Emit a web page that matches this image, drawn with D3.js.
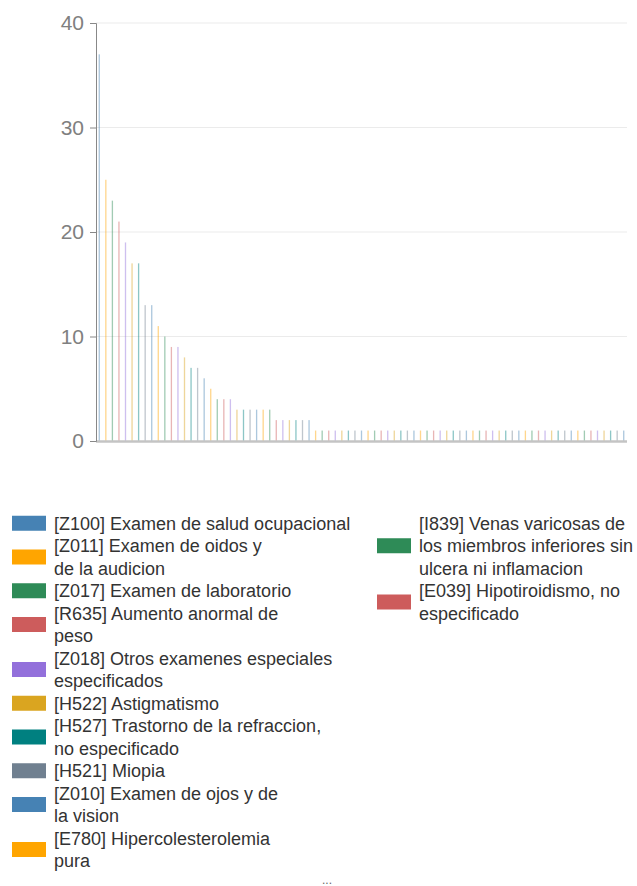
<!DOCTYPE html>
<html>
<head>
<meta charset="utf-8">
<script src="https://cdn.jsdelivr.net/npm/d3@7"></script>
<style>
  html, body { margin: 0; padding: 0; background: #fff; }
  svg { display: block; font-family: "Liberation Sans", Arial, sans-serif; }
</style>
</head>
<body>
<svg id="chart" width="637" height="886"></svg>
<script>
// ---- data ----
const values = [37, 25, 23, 21, 19, 17, 17, 13, 13, 11, 10, 9, 9, 8, 7, 7, 6, 5, 4, 4, 4,
  3, 3, 3, 3, 3, 3, 2, 2, 2, 2, 2, 2,
  1, 1, 1, 1, 1, 1, 1, 1, 1, 1, 1, 1, 1, 1, 1, 1, 1, 1, 1, 1, 1, 1, 1, 1,
  1, 1, 1, 1, 1, 1, 1, 1, 1, 1, 1, 1, 1, 1, 1, 1, 1, 1, 1, 1, 1, 1, 1, 1];
// legend labels (only the first 12 categories are shown in the legend), with their line breaks
const categoryLabels = [
  ["[Z100] Examen de salud ocupacional"],
  ["[Z011] Examen de oidos y", "de la audicion"],
  ["[Z017] Examen de laboratorio"],
  ["[R635] Aumento anormal de", "peso"],
  ["[Z018] Otros examenes especiales", "especificados"],
  ["[H522] Astigmatismo"],
  ["[H527] Trastorno de la refraccion,", "no especificado"],
  ["[H521] Miopia"],
  ["[Z010] Examen de ojos y de", "la vision"],
  ["[E780] Hipercolesterolemia", "pura"],
  ["[I839] Venas varicosas de", "los miembros inferiores sin", "ulcera ni inflamacion"],
  ["[E039] Hipotiroidismo, no", "especificado"]
];
const palette = ["#4682b4", "#ffa500", "#2e8b57", "#cd5c5c", "#9370db", "#daa520", "#008080", "#708090"];
const yTicks = [0, 10, 20, 30, 40];

// ---- chart ----
const svg = d3.select("#chart");
const plot = { left: 96, right: 627, top: 23, bottom: 441 };

const idx = d3.range(values.length);
const x = d3.scaleBand().domain(idx).range([plot.left, plot.right])
  .paddingInner(0.8).paddingOuter(0.4);
const y = d3.scaleLinear().domain([0, 40]).range([plot.bottom, plot.top]);
const color = i => palette[i % palette.length];

// grid
svg.append("g")
  .selectAll("line").data(yTicks.filter(t => t > 0)).join("line")
  .attr("x1", plot.left).attr("x2", plot.right)
  .attr("y1", d => y(d)).attr("y2", d => y(d))
  .attr("stroke", "#ebebeb").attr("stroke-width", 1);

// bars
svg.append("g")
  .selectAll("rect").data(values).join("rect")
  .attr("x", (d, i) => x(i))
  .attr("width", x.bandwidth())
  .attr("y", d => y(d))
  .attr("height", d => y(0) - y(d))
  .attr("fill", (d, i) => color(i))
  .attr("fill-opacity", 0.45);

// x axis baseline
svg.append("line")
  .attr("x1", plot.left).attr("x2", plot.right)
  .attr("y1", y(0) + 0.5).attr("y2", y(0) + 0.5)
  .attr("stroke", "#c4c4c4").attr("stroke-width", 2.5);

// y axis
const yAxis = svg.append("g")
  .attr("transform", `translate(${plot.left},0)`)
  .call(d3.axisLeft(y).tickValues(yTicks).tickSize(6).tickPadding(6).tickFormat(d3.format("d")));
yAxis.select(".domain").attr("stroke", "#888");
yAxis.selectAll(".tick line").attr("stroke", "#888");
yAxis.selectAll(".tick text")
  .attr("fill", "#808080")
  .attr("font-size", 21)
  .attr("font-family", "Liberation Sans, Arial, sans-serif");

// legend
const lineH = 22.5;
const maxLines = 16;
const colX = [12, 377];
const legendTop = 512; // top of first line
let col = 0, lineNo = 0;
const legend = svg.append("g");
categoryLabels.forEach((lines, i) => {
  if (lineNo + lines.length > maxLines) { col += 1; lineNo = 0; }
  const gx = colX[col];
  const topY = legendTop + lineNo * lineH;
  const h = lines.length * lineH;
  const g = legend.append("g");
  g.append("rect")
    .attr("x", gx).attr("y", topY + h / 2 - 7.5)
    .attr("width", 34).attr("height", 15)
    .attr("fill", color(i));
  const t = g.append("text")
    .attr("x", gx + 42)
    .attr("fill", "#333")
    .attr("font-size", 18);
  lines.forEach((ln, k) => {
    t.append("tspan")
      .attr("x", gx + 42)
      .attr("y", topY + k * lineH + lineH / 2)
      .attr("dy", "0.35em")
      .text(ln);
  });
  lineNo += lines.length;
});

svg.append("text")
  .attr("x", 327).attr("y", 884)
  .attr("text-anchor", "middle")
  .attr("fill", "#666")
  .attr("font-size", 12)
  .text("...");
</script>
</body>
</html>
